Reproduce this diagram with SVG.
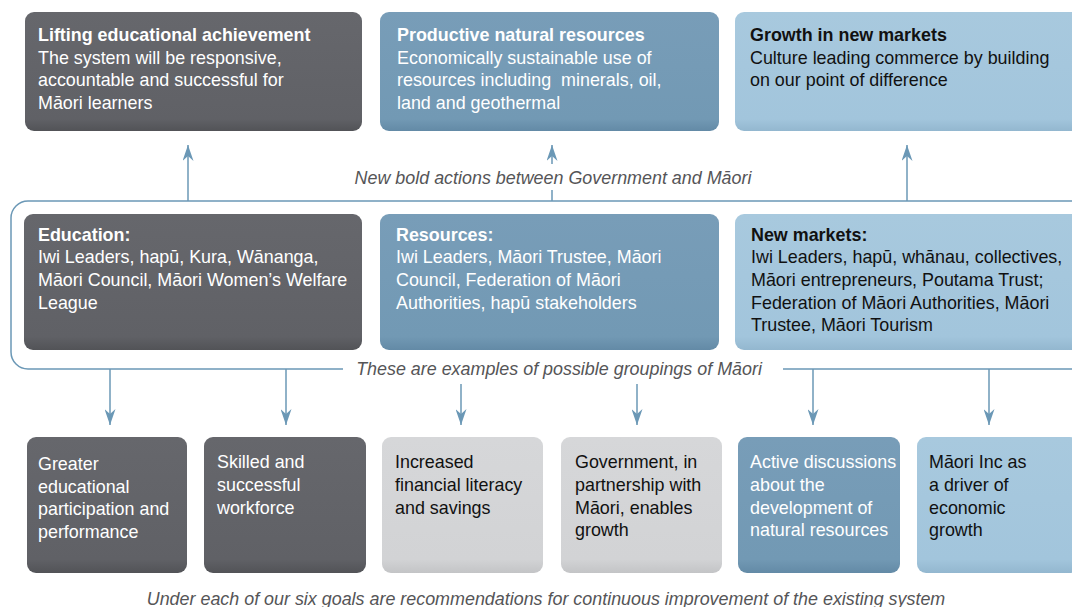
<svg xmlns="http://www.w3.org/2000/svg" width="1072" height="607" viewBox="0 0 1072 607">
<defs>
<linearGradient id="gDark" x1="0" y1="0" x2="0" y2="1"><stop offset="0" stop-color="#66676c"/><stop offset="0.9" stop-color="#606166"/><stop offset="1" stop-color="#525357"/></linearGradient>
<linearGradient id="gSteel" x1="0" y1="0" x2="0" y2="1"><stop offset="0" stop-color="#789db8"/><stop offset="0.9" stop-color="#7299b4"/><stop offset="1" stop-color="#638aa6"/></linearGradient>
<linearGradient id="gLight" x1="0" y1="0" x2="0" y2="1"><stop offset="0" stop-color="#a8c9de"/><stop offset="0.9" stop-color="#a2c5dc"/><stop offset="1" stop-color="#93b7cf"/></linearGradient>
<linearGradient id="gGray" x1="0" y1="0" x2="0" y2="1"><stop offset="0" stop-color="#d6d7d9"/><stop offset="0.9" stop-color="#d2d3d5"/><stop offset="1" stop-color="#c3c4c6"/></linearGradient>
<marker id="ah" markerUnits="userSpaceOnUse" markerWidth="16" markerHeight="11" viewBox="0 0 16 11" refX="16" refY="5.5" orient="auto">
<path d="M0,0 L16,5.5 L0,11 L5,5.5 z" fill="#6b98b6"/>
</marker>
</defs>
<style>
text{font-family:"Liberation Sans",Arial,sans-serif;font-size:17.9px}
.b{font-weight:bold}
.w{fill:#ffffff}
.k{fill:#111111}
.it{font-style:italic;fill:#555557;text-anchor:middle}
.dark{fill:url(#gDark)}
.steel{fill:url(#gSteel)}
.light{fill:url(#gLight)}
.gray{fill:url(#gGray)}
.con{fill:none;stroke:#6b98b6;stroke-width:1.5}
</style>
<rect width="1072" height="607" fill="#ffffff"/>

<g id="connectors">
<path class="con" d="M1080,201 H28 A17,17 0 0 0 11,218 V352 A17,17 0 0 0 28,369 H343 M783,369 H1080"/>
<path class="con" d="M188,201 V145" marker-end="url(#ah)"/>
<path class="con" d="M552,201 V190 M552,164 V145" marker-end="url(#ah)"/>
<path class="con" d="M907,201 V145" marker-end="url(#ah)"/>
<path class="con" d="M110,369 V425" marker-end="url(#ah)"/>
<path class="con" d="M286,369 V425" marker-end="url(#ah)"/>
<path class="con" d="M461,384 V425" marker-end="url(#ah)"/>
<path class="con" d="M637,384 V425" marker-end="url(#ah)"/>
<path class="con" d="M813,369 V425" marker-end="url(#ah)"/>
<path class="con" d="M989,369 V425" marker-end="url(#ah)"/>
</g>

<g id="label-actions"><text class="it" x="553" y="184">New bold actions between Government and Māori</text></g>
<g id="label-groupings"><text class="it" x="559" y="375">These are examples of possible groupings of Māori</text></g>
<g id="label-footer"><text class="it" x="546" y="605">Under each of our six goals are recommendations for continuous improvement of the existing system</text></g>

<g id="goal-education">
<rect class="dark" x="25" y="12" width="337" height="119" rx="9"/>
<text class="w b" x="38" y="41">Lifting educational achievement</text>
<text class="w" x="38" y="63.5">The system will be responsive,</text>
<text class="w" x="38" y="86">accountable and successful for</text>
<text class="w" x="38" y="108.5">Māori learners</text>
</g>
<g id="goal-resources">
<rect class="steel" x="380" y="12" width="339" height="119" rx="9"/>
<text class="w b" x="397" y="41">Productive natural resources</text>
<text class="w" x="397" y="63.5">Economically sustainable use of</text>
<text class="w" x="397" y="86" style="white-space:pre">resources including  minerals, oil,</text>
<text class="w" x="397" y="108.5">land and geothermal</text>
</g>
<g id="goal-markets">
<rect class="light" x="735" y="12" width="345" height="119" rx="9"/>
<text class="k b" x="750" y="41">Growth in new markets</text>
<text class="k" x="750" y="63.5">Culture leading commerce by building</text>
<text class="k" x="750" y="86">on our point of difference</text>
</g>

<g id="group-education">
<rect class="dark" x="24" y="214" width="338" height="136" rx="9"/>
<text class="w b" x="38" y="240.7">Education:</text>
<text class="w" x="38" y="263.3">Iwi Leaders, hapū, Kura, Wānanga,</text>
<text class="w" x="38" y="286">Māori Council, Māori Women’s Welfare</text>
<text class="w" x="38" y="308.6">League</text>
</g>
<g id="group-resources">
<rect class="steel" x="380" y="214" width="339" height="136" rx="9"/>
<text class="w b" x="396" y="240.7">Resources:</text>
<text class="w" x="396" y="263.3">Iwi Leaders, Māori Trustee, Māori</text>
<text class="w" x="396" y="286">Council, Federation of Māori</text>
<text class="w" x="396" y="308.6">Authorities, hapū stakeholders</text>
</g>
<g id="group-markets">
<rect class="light" x="735" y="214" width="345" height="136" rx="9"/>
<text class="k b" x="751" y="240.7">New markets:</text>
<text class="k" x="751" y="263.3">Iwi Leaders, hapū, whānau, collectives,</text>
<text class="k" x="751" y="286">Māori entrepreneurs, Poutama Trust;</text>
<text class="k" x="751" y="308.6">Federation of Māori Authorities, Māori</text>
<text class="k" x="751" y="331.2">Trustee, Māori Tourism</text>
</g>

<g id="outcome-1">
<rect class="dark" x="27" y="437" width="160" height="136" rx="9"/>
<text class="w" x="38" y="470">Greater</text>
<text class="w" x="38" y="492.6">educational</text>
<text class="w" x="38" y="515.2">participation and</text>
<text class="w" x="38" y="537.8">performance</text>
</g>
<g id="outcome-2">
<rect class="dark" x="204" y="437" width="162" height="136" rx="9"/>
<text class="w" x="217" y="468.3">Skilled and</text>
<text class="w" x="217" y="490.9">successful</text>
<text class="w" x="217" y="513.5">workforce</text>
</g>
<g id="outcome-3">
<rect class="gray" x="382" y="437" width="161" height="136" rx="9"/>
<text class="k" x="395" y="468.3">Increased</text>
<text class="k" x="395" y="490.9">financial literacy</text>
<text class="k" x="395" y="513.5">and savings</text>
</g>
<g id="outcome-4">
<rect class="gray" x="561" y="437" width="161" height="136" rx="9"/>
<text class="k" x="575" y="468.3">Government, in</text>
<text class="k" x="575" y="490.9">partnership with</text>
<text class="k" x="575" y="513.5">Māori, enables</text>
<text class="k" x="575" y="536.1">growth</text>
</g>
<g id="outcome-5">
<rect class="steel" x="738" y="437" width="162" height="136" rx="9"/>
<text class="w" x="750" y="468.3">Active discussions</text>
<text class="w" x="750" y="490.9">about the</text>
<text class="w" x="750" y="513.5">development of</text>
<text class="w" x="750" y="536.1">natural resources</text>
</g>
<g id="outcome-6">
<rect class="light" x="917" y="437" width="162" height="136" rx="9"/>
<text class="k" x="929" y="468.3">Māori Inc as</text>
<text class="k" x="929" y="490.9">a driver of</text>
<text class="k" x="929" y="513.5">economic</text>
<text class="k" x="929" y="536.1">growth</text>
</g>
</svg>
